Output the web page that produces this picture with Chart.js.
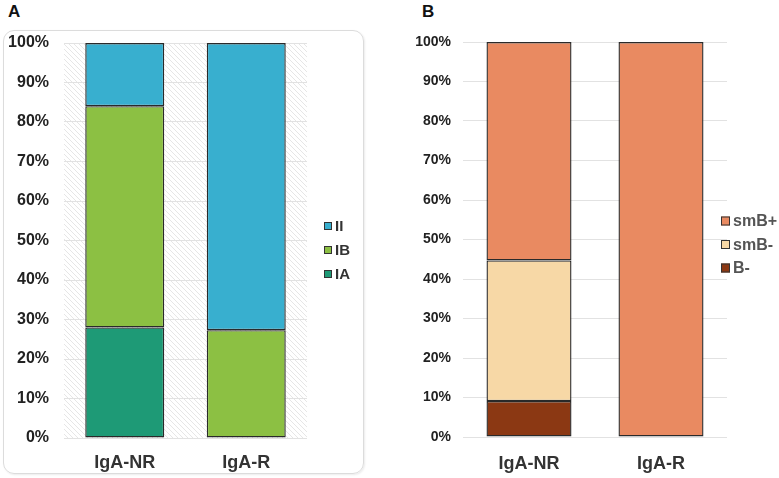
<!DOCTYPE html>
<html>
<head>
<meta charset="utf-8">
<script src="https://cdn.jsdelivr.net/npm/chart.js@4.4.1/dist/chart.umd.min.js"></script>
<style>
  html, body { margin: 0; padding: 0; background: #fff; }
  body { width: 779px; height: 478px; position: relative; overflow: hidden; font-family: 'Liberation Sans', Arial, sans-serif; }
  .panel-label { position: absolute; font-weight: bold; font-size: 17px; color: #111; }
  #boxA { position: absolute; left: 3px; top: 30px; width: 359px; height: 442px; border: 1.5px solid #dcdcdc; border-radius: 11px; box-shadow: 1px 1px 2px rgba(0,0,0,0.08); }
  #cA { position: absolute; left: 0; top: 0; }
  #cB { position: absolute; left: 390px; top: 0; }
</style>
</head>
<body>
<div id="boxA"></div>
<div class="panel-label" style="left:8px; top:2px;">A</div>
<div class="panel-label" style="left:422px; top:2px;">B</div>
<canvas id="cA" width="390" height="478"></canvas>
<canvas id="cB" width="389" height="478"></canvas>
<script>
// ---------------- DATA ----------------
const categories = ['IgA-NR', 'IgA-R'];

// Panel A (stacked %, bottom to top)
const seriesA_IA = [28, 0];
const seriesA_IB = [56, 27.3];
const seriesA_II = [16, 72.7];

// Panel B (stacked %, bottom to top)
const seriesB_Bminus   = [9.1, 0];
const seriesB_smBminus = [35.6, 0];
const seriesB_smBplus  = [55.3, 100];

const yTickValues = [0, 10, 20, 30, 40, 50, 60, 70, 80, 90, 100];
const yTickLabels = ['0%', '10%', '20%', '30%', '40%', '50%', '60%', '70%', '80%', '90%', '100%'];

// ---------------- SETUP ----------------
Chart.defaults.font.family = "'Liberation Sans', Arial, sans-serif";
Chart.defaults.animation = false;

function makeHatch() {
  const s = 5;
  const pc = document.createElement('canvas');
  pc.width = s; pc.height = s;
  const g = pc.getContext('2d');
  g.fillStyle = '#ffffff';
  g.fillRect(0, 0, s, s);
  g.strokeStyle = '#e6e6e6';
  g.lineWidth = 1;
  g.beginPath();
  g.moveTo(-1, -1); g.lineTo(s + 1, s + 1);
  g.moveTo(-1, s - 1); g.lineTo(1, s + 1);
  g.moveTo(s - 1, -1); g.lineTo(s + 1, 1);
  g.stroke();
  return pc;
}

const hatchPlugin = {
  id: 'hatchBg',
  beforeDraw(chart, args, opts) {
    if (!opts || !opts.enabled) return;
    const ctx = chart.ctx, a = chart.chartArea;
    const pat = ctx.createPattern(makeHatch(), 'repeat');
    ctx.save();
    ctx.fillStyle = pat;
    ctx.fillRect(a.left, a.top, a.right - a.left, a.bottom - a.top);
    ctx.restore();
  }
};

const customLegend = {
  id: 'customLegend',
  afterDraw(chart, args, opts) {
    if (!opts || !opts.enabled) return;
    const ctx = chart.ctx;
    const ds = chart.data.datasets.slice().reverse();
    ctx.save();
    ctx.font = 'bold ' + opts.fontSize + 'px ' + Chart.defaults.font.family;
    ctx.textBaseline = 'middle';
    ctx.textAlign = 'left';
    ds.forEach((d, i) => {
      const cy = opts.y + i * opts.spacing;
      const b = opts.box;
      ctx.fillStyle = d.backgroundColor;
      ctx.fillRect(opts.x, cy - b / 2, b, b);
      ctx.strokeStyle = '#333';
      ctx.lineWidth = 1;
      ctx.strokeRect(opts.x + 0.5, cy - b / 2 + 0.5, b - 1, b - 1);
      ctx.fillStyle = opts.color;
      ctx.fillText(d.label, opts.x + b + opts.gap, cy + 1);
    });
    ctx.restore();
  }
};

function buildOptions(cfg) {
  return {
    responsive: false,
    animation: false,
    layout: { padding: cfg.padding },
    plugins: {
      legend: { display: false },
      tooltip: { enabled: false },
      hatchBg: { enabled: cfg.hatch },
      customLegend: cfg.legend
    },
    scales: {
      x: {
        stacked: true,
        grid: { display: false },
        border: { display: false },
        ticks: { font: { size: 18, weight: 'bold' }, color: '#333', padding: cfg.xPad, maxRotation: 0 },
        afterFit(axis) { axis.height = cfg.xHeight; }
      },
      y: {
        stacked: true,
        min: 0, max: 100,
        afterBuildTicks(axis) { axis.ticks = yTickValues.map(v => ({ value: v })); },
        ticks: {
          callback: (v) => yTickLabels[yTickValues.indexOf(v)],
          font: { size: cfg.yFont, weight: 'bold' }, color: '#222', padding: cfg.yPad
        },
        grid: { color: cfg.gridColor, drawTicks: false, lineWidth: 1 },
        border: { display: false },
        afterFit(axis) { axis.width = 60; }
      }
    }
  };
}

function ds(label, data, color, bp) {
  return {
    label, data,
    backgroundColor: color,
    borderColor: '#2a2a2a',
    borderWidth: 1.4,
    borderSkipped: false,
    barPercentage: bp,
    categoryPercentage: 1.0
  };
}

new Chart(document.getElementById('cA'), {
  type: 'bar',
  data: {
    labels: categories,
    datasets: [
      ds('IA', seriesA_IA, '#1e9a76', 0.65),
      ds('IB', seriesA_IB, '#8cc043', 0.65),
      ds('II', seriesA_II, '#38afcf', 0.65)
    ]
  },
  options: buildOptions({
    padding: { left: 4, right: 83, top: 43, bottom: 0 },
    xHeight: 40, xPad: 6, yFont: 16, yPad: 15, gridColor: '#e2e2e2', hatch: true,
    legend: { enabled: true, x: 324, y: 226, spacing: 24, box: 8, gap: 3, fontSize: 15, color: '#333' }
  }),
  plugins: [hatchPlugin, customLegend]
});

new Chart(document.getElementById('cB'), {
  type: 'bar',
  data: {
    labels: categories,
    datasets: [
      ds('B-', seriesB_Bminus, '#8b3813', 0.644),
      ds('smB-', seriesB_smBminus, '#f7d8a6', 0.644),
      ds('smB+', seriesB_smBplus, '#e98a61', 0.644)
    ]
  },
  options: buildOptions({
    padding: { left: 13, right: 52, top: 42, bottom: 0 },
    xHeight: 41, xPad: 8, yFont: 14, yPad: 12, gridColor: '#e2e2e2', hatch: false,
    legend: { enabled: true, x: 331, y: 221, spacing: 23.5, box: 9, gap: 3, fontSize: 16, color: '#555' }
  }),
  plugins: [hatchPlugin, customLegend]
});
</script>
</body>
</html>
